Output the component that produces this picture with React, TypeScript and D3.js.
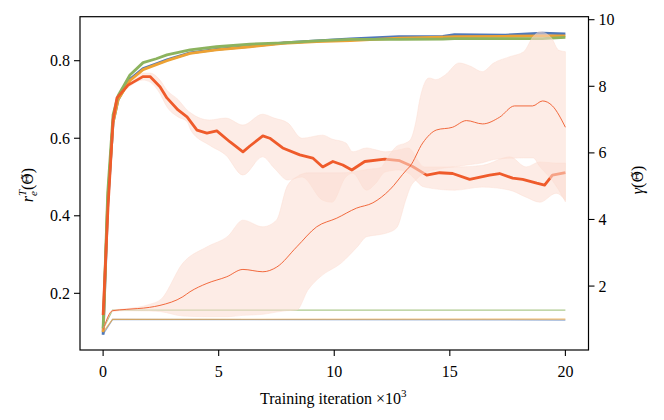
import * as d3 from "d3";

// r_e^T (left axis), thick lines: x in thousands of iterations
const topX = [0, 0.2, 0.43, 0.65, 1.16, 1.73, 2.3, 2.76, 3.76, 4.9, 6.35, 7.78, 9.24, 10.7, 12.8, 14.7, 15.2, 17.4, 19.0, 20];
const blueR = [0.093, 0.43, 0.64, 0.70, 0.752, 0.78, 0.792, 0.802, 0.82, 0.829, 0.837, 0.846, 0.851, 0.856, 0.862, 0.863, 0.867, 0.866, 0.871, 0.869];
const orangeR = [0.10, 0.44, 0.64, 0.70, 0.749, 0.777, 0.79, 0.80, 0.819, 0.828, 0.836, 0.845, 0.849, 0.852, 0.858, 0.861, 0.862, 0.863, 0.864, 0.864];
const greenR = [0.11, 0.46, 0.66, 0.71, 0.763, 0.795, 0.805, 0.815, 0.828, 0.836, 0.843, 0.846, 0.851, 0.855, 0.855, 0.856, 0.857, 0.857, 0.857, 0.86];

const redX = [0, 0.21, 0.43, 0.6, 1.08, 1.72, 2.03, 2.46, 2.76, 3.24, 3.63, 4.06, 4.49, 4.92, 5.48, 6.05, 6.35, 6.91, 7.21, 7.77, 8.51, 9.07, 9.5, 9.94, 10.37, 10.76, 11.32, 12.19, 12.83, 13.39, 14.0, 14.56, 15.12, 15.86, 16.72, 17.15, 17.72, 18.15, 18.76, 19.1, 19.44, 20];
const redR = [0.144, 0.42, 0.647, 0.704, 0.737, 0.759, 0.759, 0.733, 0.704, 0.673, 0.655, 0.621, 0.613, 0.619, 0.591, 0.565, 0.58, 0.606, 0.60, 0.575, 0.557, 0.549, 0.526, 0.54, 0.531, 0.518, 0.54, 0.546, 0.542, 0.527, 0.505, 0.511, 0.509, 0.494, 0.505, 0.509, 0.497, 0.494, 0.484, 0.479, 0.505, 0.511];

const redBandX = [0, 0.2, 0.43, 0.6, 1.08, 1.72, 2.03, 2.46, 2.76, 3.24, 3.63, 3.8, 4.6, 5.3, 6.05, 6.9, 7.4, 8.0, 8.6, 9.5, 9.9, 10.5, 10.8, 11.4, 11.8, 12.2, 12.8, 13.2, 13.9, 15.2, 16.4, 17.6, 18.3, 18.9, 19.6, 20];
const redUpper = [0.144, 0.43, 0.66, 0.71, 0.745, 0.768, 0.768, 0.75, 0.724, 0.70, 0.673, 0.665, 0.647, 0.652, 0.634, 0.662, 0.652, 0.639, 0.60, 0.608, 0.598, 0.588, 0.565, 0.575, 0.57, 0.565, 0.57, 0.575, 0.526, 0.526, 0.53, 0.552, 0.526, 0.539, 0.536, 0.536];
const redLower = [0.144, 0.41, 0.63, 0.70, 0.73, 0.75, 0.745, 0.715, 0.681, 0.655, 0.643, 0.62, 0.582, 0.557, 0.505, 0.552, 0.523, 0.492, 0.50, 0.44, 0.435, 0.50, 0.51, 0.466, 0.484, 0.513, 0.518, 0.51, 0.474, 0.466, 0.474, 0.466, 0.448, 0.435, 0.458, 0.44];

// gamma (right axis), thin lines
const flatX = [0, 0.41, 20];
const blueG = [0.55, 1.0, 0.98];
const orangeG = [0.62, 1.0, 1.01];
const greenG = [0.7, 1.28, 1.28];

const gammaX = [0, 0.41, 1, 2, 2.46, 3.45, 3.76, 4.49, 5.35, 6.05, 6.91, 7.51, 8.38, 9.24, 10.11, 10.96, 11.67, 12.4, 13.13, 13.27, 13.83, 14.43, 15.12, 15.72, 16.42, 17.15, 17.8, 18.58, 19.01, 19.44, 20];
const gammaMean = [0.68, 1.26, 1.3, 1.36, 1.42, 1.68, 1.83, 2.08, 2.28, 2.5, 2.43, 2.57, 3.18, 3.78, 4.04, 4.34, 4.5, 4.89, 5.49, 5.59, 6.3, 6.69, 6.77, 6.97, 6.87, 7.07, 7.41, 7.41, 7.56, 7.41, 6.77];

const gBandX = [0, 0.41, 1, 2, 2.5, 3.45, 4.5, 5.4, 6.05, 6.9, 7.5, 7.95, 8.38, 8.86, 9.4, 10.3, 11.0, 11.4, 12.0, 12.3, 12.7, 13.1, 13.3, 13.55, 13.7, 14.1, 14.4, 14.8, 15.4, 15.9, 16.4, 16.9, 17.6, 18.2, 18.6, 18.9, 19.4, 19.7, 20];
const gUpper = [0.68, 1.28, 1.32, 1.45, 1.6, 2.69, 3.18, 3.5, 3.98, 3.78, 3.98, 4.98, 5.28, 5.4, 5.4, 5.4, 5.45, 5.5, 5.55, 5.85, 6.2, 6.3, 6.4, 7.0, 7.6, 8.25, 8.2, 8.34, 8.7, 8.6, 8.44, 8.7, 8.89, 9.04, 9.49, 9.64, 9.45, 9.09, 9.04];
const gLower = [0.68, 1.24, 1.26, 1.25, 1.23, 1.1, 1.08, 1.08, 1.12, 1.15, 1.22, 1.26, 1.28, 1.88, 2.28, 2.69, 3.18, 3.48, 3.55, 3.6, 3.75, 4.6, 4.98, 5.2, 5.3, 5.45, 5.5, 5.55, 5.6, 5.65, 5.7, 5.8, 5.84, 5.85, 5.85, 5.58, 5.2, 4.9, 4.53];

const leftTicks = [0.2, 0.4, 0.6, 0.8];
const rightTicks = [2, 4, 6, 8, 10];
const xTicks = [0, 5, 10, 15, 20];

const C = { blue: "#4f78b9", orange: "#eda234", green: "#8cb35e", red: "#ef5b2b", band: "#fcdcd1" };

const W = 664;
const H = 420;
const left = 80, right = 588.5, top = 16.7, bottom = 350;
const txt = { fontFamily: "Liberation Serif", fill: "#000" };
const theta = { fontFamily: "DejaVu Serif", fontSize: 14 };

const x = d3.scaleLinear().domain([-1, 21]).range([left, right]);
const yL = d3.scaleLinear().domain([0.0538, 0.9135]).range([bottom, top]);
const yR = d3.scaleLinear().domain([0.08, 10.09]).range([bottom, top]);

type P = [number, number];
const zip = (xs: number[], ys: number[]): P[] => xs.map((v, i) => [v, ys[i]]);

function linePath(xs: number[], ys: number[], y: d3.ScaleLinear<number, number>, curve = d3.curveLinear) {
  return d3.line<P>().x((d) => x(d[0])).y((d) => y(d[1])).curve(curve)(zip(xs, ys)) || "";
}

function bandPath(xs: number[], lo: number[], hi: number[], y: d3.ScaleLinear<number, number>) {
  const pts = xs.map((v, i) => [v, lo[i], hi[i]] as [number, number, number]);
  return (
    d3
      .area<[number, number, number]>()
      .x((d) => x(d[0]))
      .y0((d) => y(d[1]))
      .y1((d) => y(d[2]))
      .curve(d3.curveMonotoneX)(pts) || ""
  );
}

export default function App() {
  return (
    <svg width={W} height={H} style={{ position: "absolute", left: 0, top: 0, background: "#fff" }}>
      <defs>
        <clipPath id="plot">
          <rect x={left} y={top} width={right - left} height={bottom - top} />
        </clipPath>
      </defs>

      <g clipPath="url(#plot)">
        {/* left axis: r_e^T */}
        <path d={bandPath(redBandX, redLower, redUpper, yL)} fill={C.band} fillOpacity={0.55} stroke={C.band} strokeOpacity={0.55} strokeWidth={0.8} />
        <path d={linePath(topX, blueR, yL)} fill="none" stroke={C.blue} strokeWidth={2.8} strokeLinejoin="round" />
        <path d={linePath(topX, orangeR, yL)} fill="none" stroke={C.orange} strokeWidth={2.8} strokeLinejoin="round" />
        <path d={linePath(topX, greenR, yL)} fill="none" stroke={C.green} strokeWidth={2.8} strokeLinejoin="round" />
        <path d={linePath(redX, redR, yL)} fill="none" stroke={C.red} strokeWidth={2.8} strokeLinejoin="round" />

        {/* right axis: gamma */}
        <path d={linePath(flatX, blueG, yR)} fill="none" stroke={C.blue} strokeOpacity={0.6} strokeWidth={1.2} />
        <path d={linePath(flatX, orangeG, yR)} fill="none" stroke={C.orange} strokeOpacity={0.7} strokeWidth={1.2} />
        <path d={linePath(flatX, greenG, yR)} fill="none" stroke={C.green} strokeOpacity={0.7} strokeWidth={1.2} />
        <path d={bandPath(gBandX, gLower, gUpper, yR)} fill={C.band} fillOpacity={0.55} stroke={C.band} strokeOpacity={0.55} strokeWidth={0.8} />
        <path d={linePath(gammaX, gammaMean, yR, d3.curveMonotoneX)} fill="none" stroke={C.red} strokeOpacity={0.9} strokeWidth={1} />
      </g>

      {/* frame */}
      <rect x={left} y={top} width={right - left} height={bottom - top} fill="none" stroke="#000" strokeWidth={1.2} />

      {/* left ticks */}
      {leftTicks.map((t) => (
        <g key={"l" + t}>
          <line x1={left - 6} x2={left} y1={yL(t)} y2={yL(t)} stroke="#000" strokeWidth={1.1} />
          <text x={left - 10} y={yL(t) + 5.5} textAnchor="end" fontSize={16} style={txt}>
            {t.toFixed(1)}
          </text>
        </g>
      ))}

      {/* right ticks */}
      {rightTicks.map((t) => (
        <g key={"r" + t}>
          <line x1={right} x2={right + 6} y1={yR(t)} y2={yR(t)} stroke="#000" strokeWidth={1.1} />
          <text x={right + 10} y={yR(t) + 5.5} textAnchor="start" fontSize={16} style={txt}>
            {t}
          </text>
        </g>
      ))}

      {/* bottom ticks */}
      {xTicks.map((t) => (
        <g key={"x" + t}>
          <line x1={x(t)} x2={x(t)} y1={bottom} y2={bottom + 6} stroke="#000" strokeWidth={1.1} />
          <text x={x(t)} y={bottom + 27} textAnchor="middle" fontSize={16} style={txt}>
            {t}
          </text>
        </g>
      ))}

      {/* axis labels */}
      <text x={(left + right) / 2 - 1} y={404} textAnchor="middle" fontSize={16} style={txt}>
        Training iteration ×10
        <tspan fontSize={11} dy={-7}>3</tspan>
      </text>

      <text transform="translate(33,185) rotate(-90)" textAnchor="middle" fontSize={16} style={txt}>
        <tspan fontStyle="italic">r</tspan>
        <tspan fontStyle="italic" fontSize={11} dy={4}>e</tspan>
        <tspan fontStyle="italic" fontSize={11} dx={-5} dy={-11}>T</tspan>
        <tspan dy={7}>(</tspan>
        <tspan style={theta}>Θ̃</tspan>
        <tspan>)</tspan>
      </text>

      <text transform="translate(643,180) rotate(-90)" textAnchor="middle" fontSize={16} style={txt}>
        <tspan fontStyle="italic">γ</tspan>
        <tspan>(</tspan>
        <tspan style={theta}>Θ̃</tspan>
        <tspan>)</tspan>
      </text>
    </svg>
  );
}
